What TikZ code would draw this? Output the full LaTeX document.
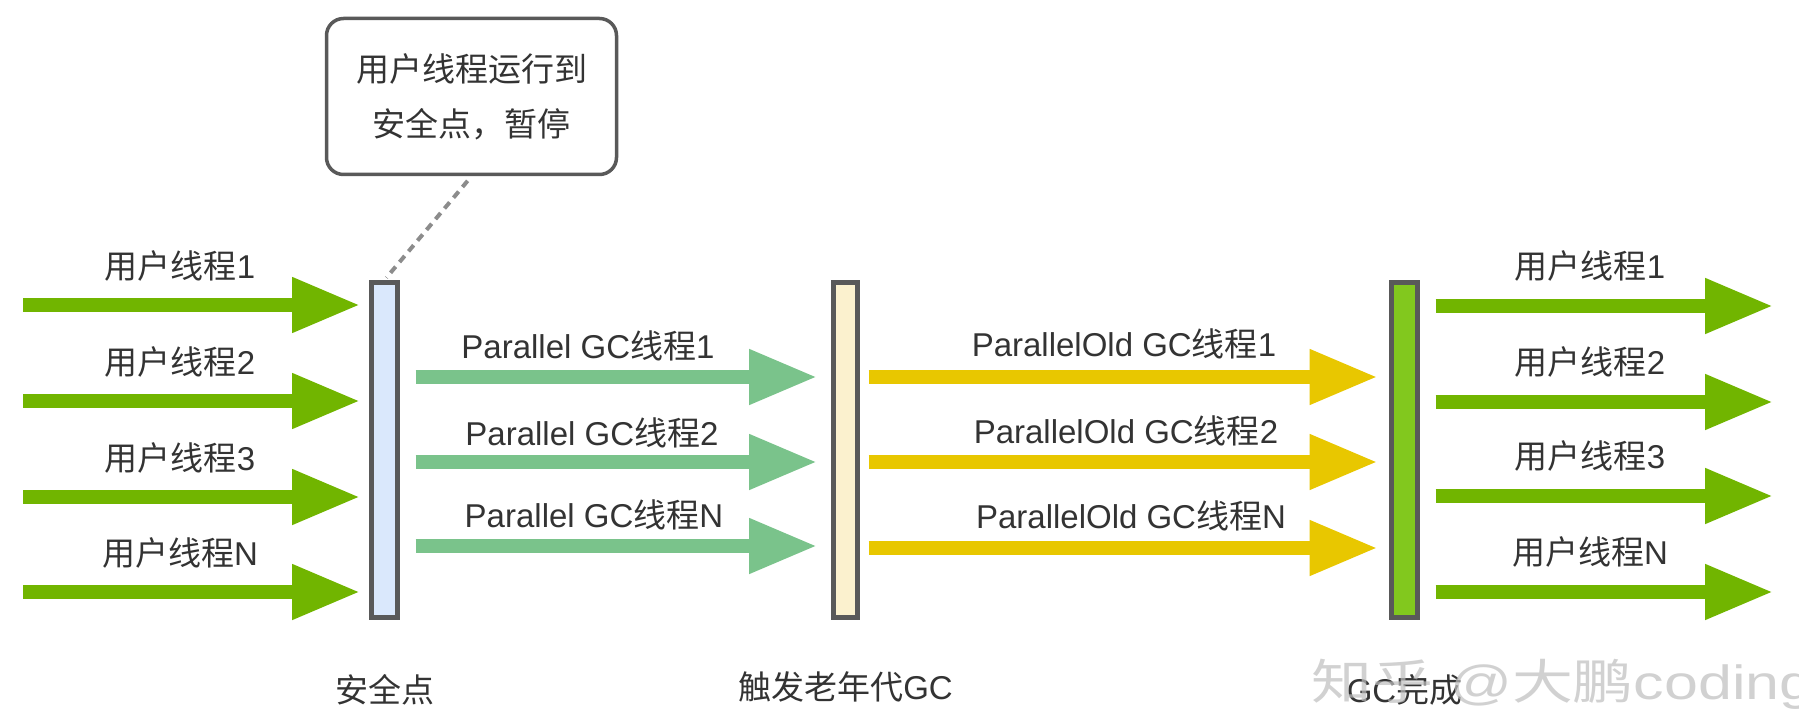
\documentclass[tikz,border=0pt]{standalone}
\usepackage{fontspec}
\setmainfont{Liberation Sans}
\newfontfamily\cjk{Noto Sans CJK SC}
\usetikzlibrary{arrows.meta,calc}
\definecolor{ugreen}{RGB}{113,181,0}
\definecolor{pgreen}{RGB}{122,195,139}
\definecolor{oyellow}{RGB}{232,199,0}
\definecolor{safefill}{RGB}{218,232,252}
\definecolor{oldfill}{RGB}{251,241,206}
\definecolor{gcfill}{RGB}{130,200,30}
\definecolor{barborder}{RGB}{89,89,89}
\definecolor{txt}{RGB}{51,51,51}
\definecolor{dashgray}{RGB}{140,140,140}
\definecolor{wmgray}{RGB}{190,190,190}
\newcommand{\zhtxt}[1]{{\cjk #1}}
\begin{document}
\begin{tikzpicture}[x=1pt,y=-1pt,
  bar/.style={draw=barborder, line width=5pt, minimum width=26pt, minimum height=335pt, inner sep=0pt},
  fat/.style={line width=14pt, -{Triangle[length=68pt,width=52pt]}},
  lbl/.style={text=txt, font=\fontsize{33}{40}\selectfont, inner sep=0pt},
  callbox/.style={draw=barborder, line width=3.5pt, rounded corners=17pt, minimum width=290pt, minimum height=156pt, align=center, text=txt, font=\fontsize{33}{55}\selectfont},
  pointer/.style={draw=dashgray, line width=4pt, dash pattern=on 8pt off 6pt}
]
\useasboundingbox (0,0) rectangle (1799,727);

% bars
\node[bar, fill=safefill] (safe) at (384.5,450) {};
\node[bar, fill=oldfill, minimum width=24pt] (old) at (845.5,450) {};
\node[bar, fill=gcfill] (gc) at (1404.5,450) {};

% callout
\node[callbox] (callout) at (471.5,96.5) {\zhtxt{用户线程运行到}\\\zhtxt{安全点，暂停}};
\draw[pointer, shorten <=6pt, shorten >=3pt] (callout.south) -- (safe.north);

% user threads in
\foreach \y/\n [count=\i] in {305/1,401/2,497/3,592/N} {
  \coordinate (ul\i) at (23,\y);
  \draw[fat, ugreen, shorten >=9pt] (ul\i) -- (ul\i -| safe.west);
  \node[lbl] (lul\i) at (180,\y-39) {\zhtxt{用户线程}\n};
}

% user threads out
\foreach \y/\n [count=\i] in {306/1,402/2,496/3,592/N} {
  \coordinate (ur\i) at (1773,\y);
  \draw[fat, ugreen, shorten <=15.5pt] (ur\i -| gc.east) -- (ur\i);
  \node[lbl] (lur\i) at (1590,\y-40) {\zhtxt{用户线程}\n};
}

% Parallel GC threads
\foreach \y/\n/\lx/\ly [count=\i] in {377/1/588/346,462/2/592/433,546/N/594/515} {
  \coordinate (pc\i) at (0,\y);
  \draw[fat, pgreen, shorten <=15.5pt, shorten >=14pt] (safe.east |- pc\i) -- (old.west |- pc\i);
  \node[lbl] (lp\i) at (\lx,\ly) {Parallel GC\zhtxt{线程}\n};
}

% ParallelOld GC threads
\foreach \y/\n/\lx/\ly [count=\i] in {377/1/1124/344,462/2/1126/431,548/N/1131/516} {
  \coordinate (oc\i) at (0,\y);
  \draw[fat, oyellow, shorten <=8.5pt, shorten >=11.5pt] (old.east |- oc\i) -- (gc.west |- oc\i);
  \node[lbl] (lo\i) at (\lx,\ly) {ParallelOld GC\zhtxt{线程}\n};
}

% bottom labels
\node[lbl] (lsafe) at ($(safe.south)+(0,70)$) {\zhtxt{安全点}};
\node[lbl] (lold) at ($(old.south)+(0,67)$) {\zhtxt{触发老年代}GC};
\node[lbl] (lgc) at ($(gc.south)+(0,70)$) {GC\zhtxt{完成}};

% watermark
\node[font=\fontsize{48}{50}\selectfont, text=wmgray, opacity=0.7, anchor=west, xscale=1.27, inner sep=0pt] (wm) at (1311,684) {\zhtxt{知乎} @\zhtxt{大鹏}coding};
\end{tikzpicture}
\end{document}
